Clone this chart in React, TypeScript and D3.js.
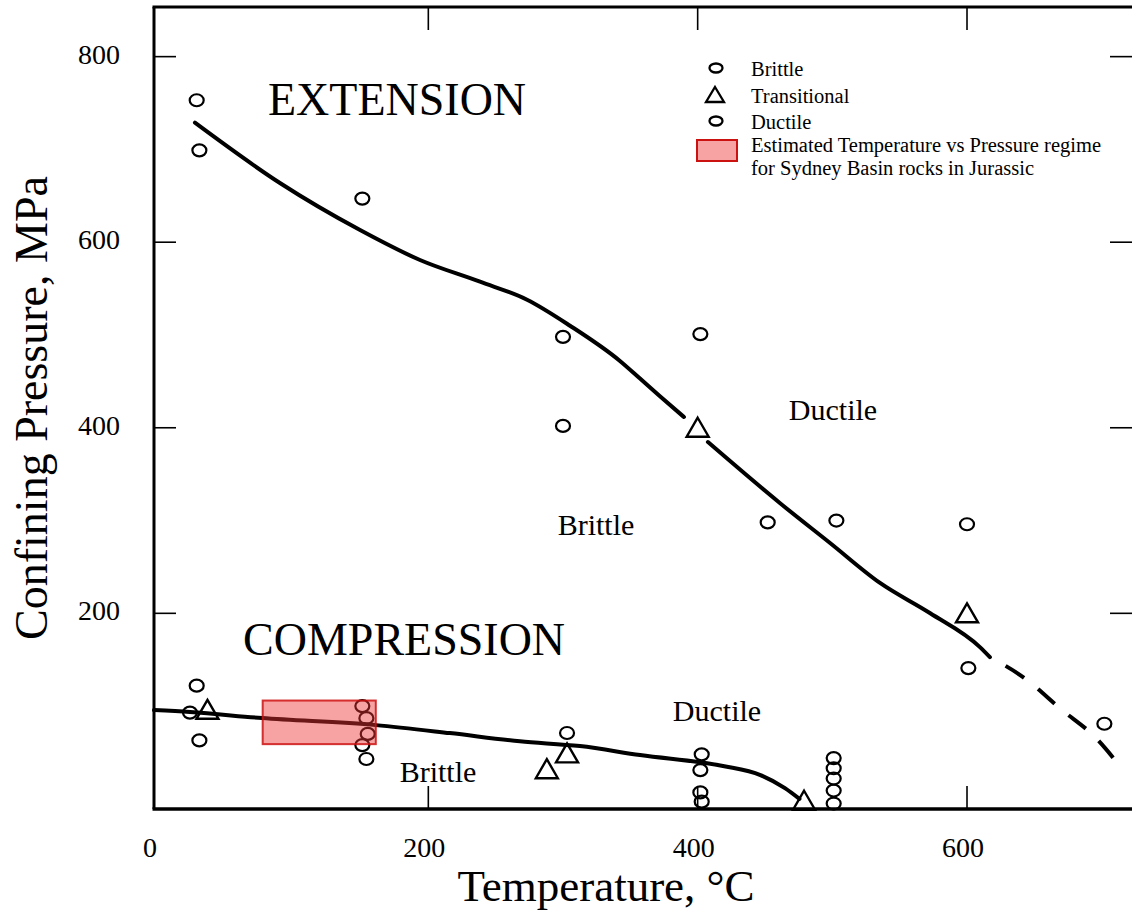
import React from 'react';
import * as d3 from 'd3';

// values (temperature °C, pressure MPa)
const extBrittle = [[30, 699], [300, 498], [300, 402], [452, 298], [601, 141]];
const extDuctile = [[28, 753], [151, 647], [402, 501], [503, 300], [600, 296], [702, 81]];
const extTransitional = [[400, 400], [600, 200]];

const compBrittle = [[23, 93], [30, 63], [155, 70], [151, 58], [154, 43], [402, 31], [402, 7], [403, -3]];
const compDuctile = [[28, 122], [151, 100], [154, 87], [303, 71], [403, 48], [501, 44], [501, 33], [501, 22], [501, 9], [501, -5]];
const compTransitional = [[36, 96], [288, 32], [303, 49], [479, -2]];

const extCurveA = [[26.7, 728.8], [89.8, 663.8], [149.3, 613.1], [193.8, 580.8], [238.4, 557.4], [273.3, 538], [305.2, 510], [342.3, 472], [357.2, 453], [372, 434], [389.8, 411.6]];
const extCurveB = [[407.6, 384.6], [461, 318.9], [498.3, 275.8], [535.4, 232.7], [572.4, 200.3], [609.6, 163.6], [617, 152.8]];
const extCurveDashed = [[617, 152.8], [641.6, 131.3], [670.5, 95.8], [695, 66.7], [715.8, 31]];
const compCurve = [[-3.7, 95.7], [23, 93.6], [76.5, 87.1], [161.1, 79.5], [216, 70.9], [268, 62], [312.6, 56.9], [357.2, 47.2], [418.8, 35.4], [446.6, 25.7], [464.8, 11.6], [475.6, 0]];

const regimeBox = { t0: 77, t1: 161, p0: 59, p1: 106 };

const xTicks = [0, 200, 400, 600];
const yTicks = [200, 400, 600, 800];

const legendItems = ['Brittle', 'Transitional', 'Ductile'];
const legendBoxText = ['Estimated Temperature vs Pressure regime', 'for Sydney Basin rocks in Jurassic'];

const W = 1132;
const H = 911;
const left = 154, right = 1134, top = 7, bottom = 809;
const font = "'Liberation Serif', 'Times New Roman', serif";

export default function App() {
  const x = d3.scaleLinear().domain([-3.7, 724]).range([left, right]);
  const y = d3.scaleLinear().domain([-10.9, 853.5]).range([bottom, top]);

  const line = d3.line<number[]>()
    .x(d => x(d[0]))
    .y(d => y(d[1]))
    .curve(d3.curveMonotoneX);

  const circle = (d: number[], i: number, k: string) => (
    <ellipse key={k + i} cx={x(d[0])} cy={y(d[1])} rx={7} ry={6} fill="none" stroke="#000" strokeWidth={2.2} />
  );
  const tri = (d: number[], i: number, k: string) => {
    const cx = x(d[0]), cy = y(d[1]);
    return (
      <path key={k + i} d={`M${cx},${cy - 10}L${cx + 11},${cy + 9}L${cx - 11},${cy + 9}Z`} fill="none" stroke="#000" strokeWidth={2.4} />
    );
  };

  return (
    <svg width={W} height={H} style={{ position: 'absolute', left: 0, top: 0, background: '#fff' }} fontFamily={font}>
      <rect x={0} y={0} width={W} height={H} fill="#fff" />

      {/* curves */}
      <g fill="none" stroke="#000" strokeWidth={4} strokeLinecap="round">
        <path d={line(extCurveA) || ''} />
        <path d={line(extCurveB) || ''} />
        <path d={line(extCurveDashed) || ''} strokeDasharray="22 18" strokeDashoffset={22} strokeLinecap="butt" />
        <path d={line(compCurve) || ''} />
      </g>

      {/* markers */}
      <g>
        {extBrittle.map((d, i) => circle(d, i, 'eb'))}
        {extDuctile.map((d, i) => circle(d, i, 'ed'))}
        {compBrittle.map((d, i) => circle(d, i, 'cb'))}
        {compDuctile.map((d, i) => circle(d, i, 'cd'))}
        {extTransitional.map((d, i) => tri(d, i, 'et'))}
        {compTransitional.map((d, i) => tri(d, i, 'ct'))}
      </g>

      {/* estimated regime box */}
      <rect x={x(regimeBox.t0)} y={y(regimeBox.p1)} width={x(regimeBox.t1) - x(regimeBox.t0)} height={y(regimeBox.p0) - y(regimeBox.p1)}
        fill="#ee3333" fillOpacity={0.45} stroke="#cc1111" strokeOpacity={0.85} strokeWidth={2} />

      {/* frame */}
      <g stroke="#000" fill="none">
        <line x1={left} x2={left} y1={top} y2={bottom} strokeWidth={3} />
        <line x1={left - 1.5} x2={right} y1={bottom} y2={bottom} strokeWidth={3.5} />
        <line x1={left - 1.5} x2={right} y1={top} y2={top} strokeWidth={3} />
        {yTicks.map(t => (
          <g key={'yt' + t} strokeWidth={1.6}>
            <line x1={left} x2={left + 22} y1={y(t)} y2={y(t)} />
            <line x1={W - 22} x2={W} y1={y(t)} y2={y(t)} />
          </g>
        ))}
        {xTicks.filter(t => t > 0).map(t => (
          <g key={'xt' + t} strokeWidth={1.6}>
            <line x1={x(t)} x2={x(t)} y1={bottom} y2={bottom - 23} />
            <line x1={x(t)} x2={x(t)} y1={top} y2={top + 23} />
          </g>
        ))}
      </g>

      {/* tick labels */}
      <g fontSize={28} fill="#000">
        {yTicks.map(t => (
          <text key={'yl' + t} x={120} y={y(t) + 7} textAnchor="end">{t}</text>
        ))}
        {xTicks.map(t => (
          <text key={'xl' + t} x={t === 0 ? 150 : x(t) - 4} y={857} textAnchor="middle">{t}</text>
        ))}
      </g>

      {/* axis titles */}
      <text x={606} y={901} fontSize={45} textAnchor="middle">Temperature, °C</text>
      <text transform={`translate(47,${(top + bottom) / 2}) rotate(-90)`} fontSize={46} textAnchor="middle">Confining Pressure, MPa</text>

      {/* region labels */}
      <text x={268} y={115} fontSize={46}>EXTENSION</text>
      <text x={243} y={655} fontSize={46}>COMPRESSION</text>
      <g fontSize={30}>
        <text x={833} y={420} textAnchor="middle">Ductile</text>
        <text x={596} y={535} textAnchor="middle">Brittle</text>
        <text x={717} y={721} textAnchor="middle">Ductile</text>
        <text x={438} y={782} textAnchor="middle">Brittle</text>
      </g>

      {/* legend */}
      <g fontSize={20.5}>
        {legendItems.map((name, i) => {
          const cy = [68, 95, 121][i];
          return (
            <g key={name}>
              {name === 'Transitional'
                ? <path d={`M715,${cy - 8}L724,${cy + 7}L706,${cy + 7}Z`} fill="none" stroke="#000" strokeWidth={2.3} />
                : <ellipse cx={716} cy={cy} rx={6.5} ry={4.5} fill="none" stroke="#000" strokeWidth={2.3} />}
              <text x={751} y={cy + 8}>{name}</text>
            </g>
          );
        })}
        <rect x={697} y={140} width={40} height={21} fill="#ee3333" fillOpacity={0.45} stroke="#cc1111" strokeWidth={2} />
        {legendBoxText.map((s, i) => (
          <text key={s} x={751} y={152 + i * 23}>{s}</text>
        ))}
      </g>
    </svg>
  );
}
